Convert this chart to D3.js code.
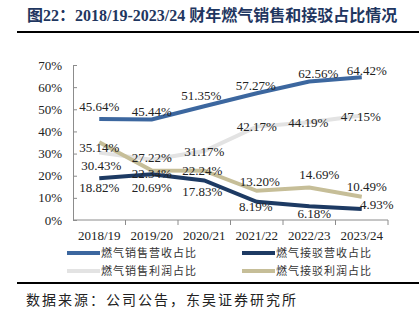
<!DOCTYPE html>
<html>
<head>
<meta charset="utf-8">
<script src="https://cdn.jsdelivr.net/npm/d3@7"></script>
<style>
  body { margin: 0; background: #fff; }
  svg { display: block; }
</style>
</head>
<body>
<div id="chart"></div>
<script>
// data
const years = ["2018/19", "2019/20", "2020/21", "2021/22", "2022/23", "2023/24"];
const saleRevenue = [45.64, 45.44, 51.35, 57.27, 62.56, 64.42];     // 燃气销售营收占比
const connRevenue = [18.82, 20.69, 17.83, 8.19, 6.18, 4.93];        // 燃气接驳营收占比
const saleProfit  = [30.43, 27.22, 31.17, 42.17, 44.19, 47.15];     // 燃气销售利润占比
const connProfit  = [35.14, 22.34, 22.24, 13.20, 14.69, 10.49];     // 燃气接驳利润占比
const seriesNames = ["燃气销售营收占比", "燃气接驳营收占比", "燃气销售利润占比", "燃气接驳利润占比"];
const yTicks = [0, 10, 20, 30, 40, 50, 60, 70];

// label nudges (px) relative to each point, per series
const labelShift = [
  [[0,-12],[0,-8],[-3,-11],[-1,-8],[9,-8],[5,-7]],
  [[0,9],[0,13],[-2,11],[-1,5],[5,7],[15,-5]],
  [[2,13],[0,-2.5],[0,1],[0,0],[-1,0],[-1,1]],
  [[0,5],[0,3],[-2,0],[3,-9],[10,-13],[5,-10]]
];

const colors = ["#3c679f", "#1d3a63", "#e3e3e3", "#c6be98"];
const series = [saleRevenue, connRevenue, saleProfit, connProfit];

const W = 419, H = 326;
const svg = d3.select("#chart").append("svg")
  .attr("width", W).attr("height", H);

// title
svg.append("text")
  .attr("x", 27).attr("y", 21)
  .attr("font-family", "'Liberation Serif', 'Noto Sans CJK SC', serif")
  .attr("font-weight", "bold")
  .attr("font-size", 16)
  .attr("fill", "#1f3660")
  .text("图22：2018/19-2023/24 财年燃气销售和接驳占比情况");

svg.append("line")
  .attr("x1", 17).attr("x2", W).attr("y1", 32).attr("y2", 32)
  .attr("stroke", "#000").attr("stroke-width", 2);

// scales
const x = d3.scaleBand().domain(years).range([73, 388]);
const y = d3.scaleLinear().domain([0, 70]).range([220, 65]);
const cx = d => x(d) + x.bandwidth() / 2;

const serif = "'Liberation Serif', 'Times New Roman', serif";

// y axis
const gy = svg.append("g").attr("transform", "translate(73,0)")
  .call(d3.axisRight(y).tickValues(yTicks).tickSize(4).tickFormat(""));
gy.select(".domain").attr("stroke", "#8c8c8c");
gy.selectAll(".tick line").attr("stroke", "#8c8c8c");

svg.append("g").selectAll("text")
  .data(yTicks).join("text")
  .attr("x", 62).attr("y", d => y(d) + 4.5)
  .attr("text-anchor", "end")
  .attr("font-family", serif).attr("font-size", 13).attr("fill", "#222")
  .text(d => d + "%");

// x axis with ticks at category boundaries
const bounds = d3.range(years.length + 1).map(i => 73 + i * x.step());
const gx = svg.append("g");
gx.append("line").attr("x1", 73).attr("x2", 388).attr("y1", 220).attr("y2", 220)
  .attr("stroke", "#8c8c8c");
gx.selectAll("line.tk").data(bounds.slice(1)).join("line").attr("class", "tk")
  .attr("x1", d => d).attr("x2", d => d).attr("y1", 220).attr("y2", 225)
  .attr("stroke", "#8c8c8c");
gx.selectAll("text").data(years).join("text")
  .attr("x", d => cx(d)).attr("y", 240)
  .attr("text-anchor", "middle")
  .attr("font-family", serif).attr("font-size", 13).attr("fill", "#222")
  .text(d => d);

// lines
const line = d3.line().x((d, i) => cx(years[i])).y(d => y(d));
const drawOrder = [2, 3, 1, 0];
drawOrder.forEach(s => {
  svg.append("path")
    .datum(series[s])
    .attr("d", line)
    .attr("fill", "none")
    .attr("stroke", colors[s])
    .attr("stroke-width", 4);
});

// data labels
series.forEach((vals, s) => {
  svg.append("g").selectAll("text")
    .data(vals).join("text")
    .attr("x", (d, i) => cx(years[i]) + labelShift[s][i][0])
    .attr("y", (d, i) => y(d) + labelShift[s][i][1] + 4.5)
    .attr("text-anchor", "middle")
    .attr("font-family", serif).attr("font-size", 13).attr("fill", "#222")
    .text(d => d.toFixed(2) + "%");
});

// legend
const legendPos = [[67, 253], [242, 253], [67, 271], [242, 271]];
seriesNames.forEach((name, s) => {
  const [lx, ly] = legendPos[s];
  svg.append("line")
    .attr("x1", lx).attr("x2", lx + 33).attr("y1", ly).attr("y2", ly)
    .attr("stroke", colors[s]).attr("stroke-width", 4);
  svg.append("text")
    .attr("x", lx + 34).attr("y", ly + 4)
    .attr("font-family", "'Noto Sans CJK SC', sans-serif")
    .attr("font-size", 11).attr("letter-spacing", 1)
    .attr("fill", "#333")
    .text(name);
});

svg.append("line")
  .attr("x1", 17).attr("x2", W).attr("y1", 283).attr("y2", 283)
  .attr("stroke", "#000").attr("stroke-width", 2);

svg.append("text")
  .attr("x", 26).attr("y", 305)
  .attr("font-family", "'Noto Sans CJK SC', sans-serif")
  .attr("font-size", 14).attr("letter-spacing", 2)
  .attr("fill", "#222")
  .text("数据来源：公司公告，东吴证券研究所");
</script>
</body>
</html>
